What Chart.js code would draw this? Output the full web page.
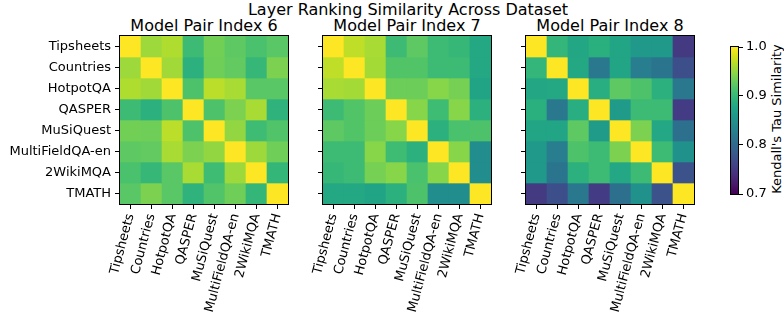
<!DOCTYPE html>
<html>
<head>
<meta charset="utf-8">
<script src="https://cdn.jsdelivr.net/npm/chart.js@4.4.1/dist/chart.umd.min.js"></script>
<style>
  html, body { margin: 0; padding: 0; background: #fff; }
  #fig { position: relative; width: 784px; height: 320px; overflow: hidden;
         font-family: "DejaVu Sans", sans-serif; color: #000; }
  #fig canvas { position: absolute; top: 0; }
  .ttl { position: absolute; white-space: nowrap; font-size: 16px; line-height: 16px;
         transform: translate(-50%, -50%); }
  .cbl { position: absolute; white-space: nowrap; font-size: 13px; line-height: 13px;
         transform: translate(-50%, -50%) rotate(-90deg); }
</style>
</head>
<body>
<div id="fig">
  <div class="ttl" style="left:408px; top:10px;">Layer Ranking Similarity Across Dataset</div>
  <div class="ttl" style="left:204px; top:25.5px;">Model Pair Index 6</div>
  <div class="ttl" style="left:407px; top:25.5px;">Model Pair Index 7</div>
  <div class="ttl" style="left:610px; top:25.5px;">Model Pair Index 8</div>
  <div class="cbl" style="left:776px; top:119px;">Kendall's Tau Similarity</div>
  <canvas id="p6" width="300" height="320" style="left:0px"></canvas>
  <canvas id="p7" width="200" height="320" style="left:300px"></canvas>
  <canvas id="p8" width="205" height="320" style="left:500px"></canvas>
  <canvas id="cb" width="79" height="320" style="left:705px"></canvas>
</div>
<script>
// Datasets compared in every panel (rows and columns share the same order)
const datasets = ['Tipsheets', 'Countries', 'HotpotQA', 'QASPER', 'MuSiQuest',
                  'MultiFieldQA-en', '2WikiMQA', 'TMATH'];

// Kendall's tau between layer rankings, one matrix per model pair
const pair6 = [
  [1.000, 0.955, 0.963, 0.905, 0.935, 0.925, 0.913, 0.922],
  [0.955, 1.000, 0.957, 0.890, 0.933, 0.927, 0.900, 0.940],
  [0.963, 0.957, 1.000, 0.915, 0.968, 0.960, 0.922, 0.922],
  [0.905, 0.890, 0.915, 1.000, 0.915, 0.940, 0.960, 0.893],
  [0.935, 0.933, 0.968, 0.915, 1.000, 0.950, 0.906, 0.917],
  [0.925, 0.927, 0.960, 0.940, 0.950, 1.000, 0.955, 0.933],
  [0.913, 0.900, 0.922, 0.960, 0.906, 0.955, 1.000, 0.898],
  [0.922, 0.940, 0.922, 0.893, 0.917, 0.933, 0.898, 1.000]
];
const pair7 = [
  [1.000, 0.970, 0.960, 0.905, 0.925, 0.905, 0.900, 0.880],
  [0.970, 1.000, 0.958, 0.918, 0.918, 0.905, 0.905, 0.880],
  [0.960, 0.958, 1.000, 0.932, 0.932, 0.945, 0.937, 0.873],
  [0.905, 0.918, 0.932, 1.000, 0.945, 0.906, 0.945, 0.890],
  [0.925, 0.918, 0.932, 0.945, 1.000, 0.890, 0.913, 0.915],
  [0.905, 0.905, 0.945, 0.906, 0.890, 1.000, 0.945, 0.845],
  [0.900, 0.905, 0.937, 0.945, 0.913, 0.945, 1.000, 0.845],
  [0.880, 0.880, 0.873, 0.890, 0.915, 0.845, 0.845, 1.000]
];
const pair8 = [
  [1.000, 0.897, 0.877, 0.889, 0.875, 0.860, 0.860, 0.750],
  [0.897, 1.000, 0.880, 0.820, 0.875, 0.825, 0.815, 0.772],
  [0.877, 0.880, 1.000, 0.887, 0.925, 0.915, 0.890, 0.820],
  [0.889, 0.820, 0.887, 1.000, 0.863, 0.905, 0.905, 0.752],
  [0.875, 0.875, 0.925, 0.863, 1.000, 0.940, 0.878, 0.810],
  [0.860, 0.825, 0.915, 0.905, 0.940, 1.000, 0.905, 0.850],
  [0.860, 0.815, 0.890, 0.905, 0.878, 0.905, 1.000, 0.775],
  [0.750, 0.772, 0.820, 0.752, 0.810, 0.850, 0.775, 1.000]
];

// Colour scale limits and colorbar ticks
const tauRange = [0.7, 1.0];
const tauTicks = [0.7, 0.8, 0.9, 1.0];

// Viridis colormap sampled at 17 evenly spaced stops
const VIRIDIS = ['#440154', '#48186a', '#472d7b', '#424086', '#3b528b', '#33638d',
                 '#2c728e', '#26828e', '#21918c', '#1fa088', '#28ae80', '#3fbc73',
                 '#5ec962', '#84d44b', '#addc30', '#d8e219', '#fde725'];

function hexToRgb(h) {
  return [parseInt(h.slice(1, 3), 16), parseInt(h.slice(3, 5), 16), parseInt(h.slice(5, 7), 16)];
}
const VIRIDIS_RGB = VIRIDIS.map(hexToRgb);

function viridis(v) {
  let t = (v - tauRange[0]) / (tauRange[1] - tauRange[0]);
  t = Math.max(0, Math.min(1, t));
  const pos = t * (VIRIDIS_RGB.length - 1);
  const i = Math.min(Math.floor(pos), VIRIDIS_RGB.length - 2);
  const f = pos - i;
  const a = VIRIDIS_RGB[i], b = VIRIDIS_RGB[i + 1];
  const c = a.map((x, k) => Math.round(x + (b[k] - x) * f));
  return `rgb(${c[0]},${c[1]},${c[2]})`;
}

Chart.defaults.font.family = "'DejaVu Sans', sans-serif";
Chart.defaults.font.size = 13;
Chart.defaults.color = '#000';
Chart.defaults.animation = false;

// Black frame around each plot area, like axis spines
const frame = {
  id: 'frame',
  afterDatasetsDraw(chart) {
    const { ctx, chartArea: a } = chart;
    ctx.save();
    ctx.strokeStyle = '#000';
    ctx.lineWidth = 1;
    ctx.strokeRect(a.left - 0.5, a.top - 0.5, a.right - a.left + 1, a.bottom - a.top + 1);
    ctx.restore();
  }
};

const tickGrid = {
  display: true, drawOnChartArea: false, drawTicks: true,
  tickLength: 5, tickColor: '#000', tickWidth: 1, offset: false
};

function heatmap(id, matrix, opts) {
  const rows = matrix.map((vals, i) => ({
    data: vals.map((v, j) => ({ x: datasets[j], y: [i, i + 1], v })),
    backgroundColor: ctx => viridis(ctx.raw.v),
    borderWidth: 0,
    grouped: false,
    barPercentage: 1,
    categoryPercentage: 1
  }));
  return new Chart(document.getElementById(id), {
    type: 'bar',
    data: { labels: datasets, datasets: rows },
    options: {
      responsive: false,
      devicePixelRatio: 1,
      layout: { padding: { top: 36, bottom: 0, left: 0, right: opts.padRight } },
      plugins: { legend: { display: false }, tooltip: { enabled: false } },
      scales: {
        x: {
          type: 'category',
          offset: true,
          grid: tickGrid,
          border: { display: false },
          ticks: { minRotation: 75, maxRotation: 75, padding: 3, autoSkip: false },
          afterFit: s => { s.height = 116; }
        },
        y: {
          type: 'linear',
          min: 0, max: 8, reverse: true,
          grid: tickGrid,
          border: { display: false },
          afterBuildTicks: s => { s.ticks = datasets.map((_, i) => ({ value: i + 0.5 })); },
          ticks: {
            padding: 4, autoSkip: false,
            callback: (val, idx) => opts.showY ? datasets[idx] : ''
          },
          afterFit: s => { s.width = opts.yWidth; }
        }
      }
    },
    plugins: [frame]
  });
}

heatmap('p6', pair6, { yWidth: 120, padRight: 12, showY: true });
heatmap('p7', pair7, { yWidth: 23, padRight: 9, showY: false });
heatmap('p8', pair8, { yWidth: 26, padRight: 11, showY: false });

// Colorbar: one floating bar spanning the colour range, filled with the colormap
new Chart(document.getElementById('cb'), {
  type: 'bar',
  data: {
    labels: [''],
    datasets: [{
      data: [tauRange],
      backgroundColor: ctx => {
        const chart = ctx.chart;
        const ys = chart.scales.y;
        if (!chart.chartArea || !ys) return VIRIDIS[8];
        const g = chart.ctx.createLinearGradient(0, ys.getPixelForValue(tauRange[0]),
                                                 0, ys.getPixelForValue(tauRange[1]));
        VIRIDIS.forEach((c, i) => g.addColorStop(i / (VIRIDIS.length - 1), c));
        return g;
      },
      borderWidth: 0,
      barPercentage: 1,
      categoryPercentage: 1
    }]
  },
  options: {
    responsive: false,
    devicePixelRatio: 1,
    layout: { padding: { top: 47, bottom: 126, left: 26, right: 0 } },
    plugins: { legend: { display: false }, tooltip: { enabled: false } },
    scales: {
      x: { display: false },
      y: {
        position: 'right',
        min: tauRange[0], max: tauRange[1],
        grid: { display: true, drawOnChartArea: false, drawTicks: true,
                tickLength: 5, tickColor: '#000', tickWidth: 1 },
        border: { display: false },
        afterBuildTicks: s => { s.ticks = tauTicks.map(v => ({ value: v })); },
        ticks: { padding: 3, callback: v => Number(v).toFixed(1) },
        afterFit: s => { s.width = 46; }
      }
    }
  },
  plugins: [frame]
});
</script>
</body>
</html>
